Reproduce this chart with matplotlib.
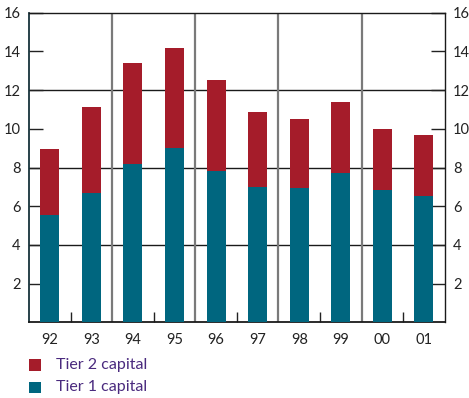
import matplotlib
matplotlib.use("Agg")
import matplotlib.pyplot as plt
from matplotlib.patches import Rectangle
import numpy as np

years = ["92", "93", "94", "95", "96", "97", "98", "99", "00", "01"]
tier1 = [5.55, 6.68, 8.20, 9.02, 7.82, 6.98, 6.94, 7.72, 6.84, 6.54]
total = [8.96, 11.13, 13.40, 14.18, 12.52, 10.87, 10.51, 11.38, 9.99, 9.68]
tier2 = [t - a for t, a in zip(total, tier1)]
legend_labels = ["Tier 2 capital", "Tier 1 capital"]

RED = "#A51C2A"
TEAL = "#00667F"
LEGEND_TEXT = "#4A2A7E"

plt.rcParams["font.family"] = ["Lato", "DejaVu Sans"]

W, H = 469, 398
fig = plt.figure(figsize=(W / 100, H / 100), dpi=100)
ax = fig.add_axes([29 / W, 1 - 322.3 / H, (444.7 - 29) / W, (322.3 - 12.7) / H])

x = np.arange(len(years))
w = 0.46
ax.bar(x, tier1, width=w, color=TEAL, zorder=3)
ax.bar(x, tier2, width=w, bottom=tier1, color=RED, zorder=3)

ax.set_xlim(-0.5, len(years) - 0.5)
ax.set_ylim(0, 16)

# horizontal grid at 4, 8, 12
for yv in (4, 8, 12):
    ax.axhline(yv, color="#1a1a1a", lw=1.0, zorder=1)
# vertical separators between pairs of years
for xv in (1.5, 3.5, 5.5, 7.5):
    ax.axvline(xv, color="#7a7a7a", lw=1.6, zorder=1)

ax.set_yticks([2, 4, 6, 8, 10, 12, 14, 16])
ax.set_yticklabels(["2", "4", "6", "8", "10", "12", "14", "16"])
ax.tick_params(axis="y", which="both", direction="in", length=10, width=1,
               left=True, right=True, labelleft=True, labelright=True,
               labelsize=10.5, colors="#222222", pad=6)

ax.set_xticks(x)
ax.set_xticklabels(years)
ax.set_xticks([0.5, 2.5, 4.5, 6.5, 8.5], minor=True)
ax.tick_params(axis="x", which="major", length=0, labelsize=10.5, colors="#222222", pad=8)
ax.tick_params(axis="x", which="minor", direction="in", length=7, width=1, color="#222222")

for s in ax.spines.values():
    s.set_color("#1a1a1a")
    s.set_linewidth(1.0)
ax.spines["left"].set_color("#17333a")
ax.spines["left"].set_linewidth(1.3)
ax.spines["bottom"].set_linewidth(1.3)

# legend: coloured squares with labels beneath the plot
for i, (lab, col) in enumerate(zip(legend_labels, [RED, TEAL])):
    top = 359.3 + i * 22.2
    fig.add_artist(Rectangle((29 / W, 1 - (top + 11.5) / H), 11.7 / W, 11.5 / H,
                             transform=fig.transFigure, facecolor=col, edgecolor="none"))
    fig.text(55.5 / W, 1 - (top + 6.0) / H, lab, color=LEGEND_TEXT, fontsize=11.5,
             ha="left", va="center")

fig.savefig("out.png", dpi=100)
